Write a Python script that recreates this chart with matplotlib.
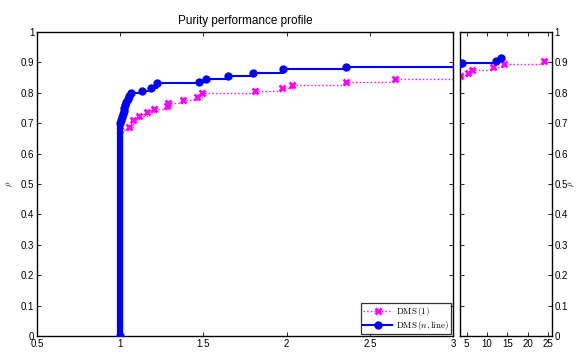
import matplotlib
matplotlib.use("Agg")
import matplotlib.pyplot as plt

# DMS(1) profile (tau, rho)
tau_m = [1.0, 1.0, 1.054, 1.078, 1.113, 1.159, 1.203, 1.279, 1.289, 1.379, 1.459, 1.489,
         1.813, 1.971, 2.032, 2.356, 2.652, 3.5, 5.3, 6.3, 11.6, 14.1, 24.1]
rho_m = [0.0, 0.678, 0.687, 0.71, 0.725, 0.736, 0.746, 0.757, 0.767, 0.776, 0.787, 0.798,
         0.807, 0.816, 0.826, 0.836, 0.846, 0.855, 0.866, 0.875, 0.884, 0.894, 0.905]

# DMS(n,line) profile (tau, rho)
tau_b = [1.0, 1.0, 1.005, 1.01, 1.015, 1.02, 1.025, 1.03, 1.037, 1.045, 1.055, 1.065,
         1.132, 1.183, 1.219, 1.475, 1.515, 1.649, 1.80, 1.976, 2.356, 3.9, 12.3, 13.4]
rho_b = [0.0, 0.70, 0.71, 0.72, 0.73, 0.74, 0.75, 0.76, 0.77, 0.78, 0.79, 0.80,
         0.807, 0.815, 0.831, 0.837, 0.845, 0.855, 0.866, 0.877, 0.886, 0.897, 0.906, 0.916]

labels = [r'$\mathrm{DMS}\,(1)$', r'$\mathrm{DMS}\,(n,\mathrm{line})$']
title = "Purity performance profile"
left_xticks = [0.5, 1, 1.5, 2, 2.5, 3]
right_xticks = [5, 10, 15, 20, 25]
yticks = [0, 0.1, 0.2, 0.3, 0.4, 0.5, 0.6, 0.7, 0.8, 0.9, 1]

plt.rcParams['font.family'] = ['Liberation Sans', 'DejaVu Sans']
plt.rcParams['mathtext.fontset'] = 'cm'

W, H = 579, 354
fig = plt.figure(figsize=(W / 100, H / 100), dpi=100)
ax1 = fig.add_axes([37 / W, 1 - 336 / H, (453 - 37) / W, (336 - 32) / H])
ax2 = fig.add_axes([460 / W, 1 - 336 / H, (552 - 460) / W, (336 - 32) / H])

fs = 7
for ax in (ax1, ax2):
    ax.plot(tau_m, rho_m, color=(1, 0, 1), ls=':', lw=1, drawstyle='steps-post',
            marker='x', ms=4.5, mew=2, label=labels[0], zorder=2)
    ax.plot(tau_b[:2], rho_b[:2], color=(0, 0, 1), lw=4.5, solid_capstyle='butt', zorder=3)
    ax.plot(tau_b, rho_b, color=(0, 0, 1), ls='-', lw=1.5, drawstyle='steps-post',
            marker='o', ms=5, label=labels[1], zorder=3)
    ax.set_ylim(0, 1)
    ax.set_yticks(yticks)
    ax.set_yticklabels([f"{v:g}" for v in yticks])
    ax.tick_params(direction='in', top=True, right=True, labelsize=fs, length=3, width=0.6, pad=2)
    for s in ax.spines.values():
        s.set_linewidth(1.0)

ax1.set_xlim(0.5, 3)
ax1.set_xticks(left_xticks)
ax1.set_xticklabels([f"{v:g}" for v in left_xticks])
ax1.set_ylabel(r'$\rho$', fontsize=6, labelpad=4)
ax1.set_xlabel(r'$\tau$', fontsize=6, labelpad=3)
ax1.set_title(title, fontsize=8.5, pad=6)

ax2.set_xlim(3.4, 26)
ax2.set_xticks(right_xticks)
ax2.yaxis.tick_right()
ax2.tick_params(left=True, right=True, labelleft=False, labelright=True)
ax2.yaxis.set_label_position('right')
ax2.set_ylabel(r'$\rho$', fontsize=6, va='center', ha='center')
ax2.yaxis.set_label_coords((572 - 460) / (552 - 460), 0.5)
ax2.set_xlabel(r'$\tau$', fontsize=6, labelpad=3)

leg = ax1.legend(loc='lower right', fontsize=6.5, frameon=True, fancybox=False,
                 edgecolor='black', borderpad=0.2, handlelength=3.2, handletextpad=0.4,
                 labelspacing=0.1, borderaxespad=0.25)
leg.get_frame().set_linewidth(0.9)

fig.savefig("out.png", dpi=100)
